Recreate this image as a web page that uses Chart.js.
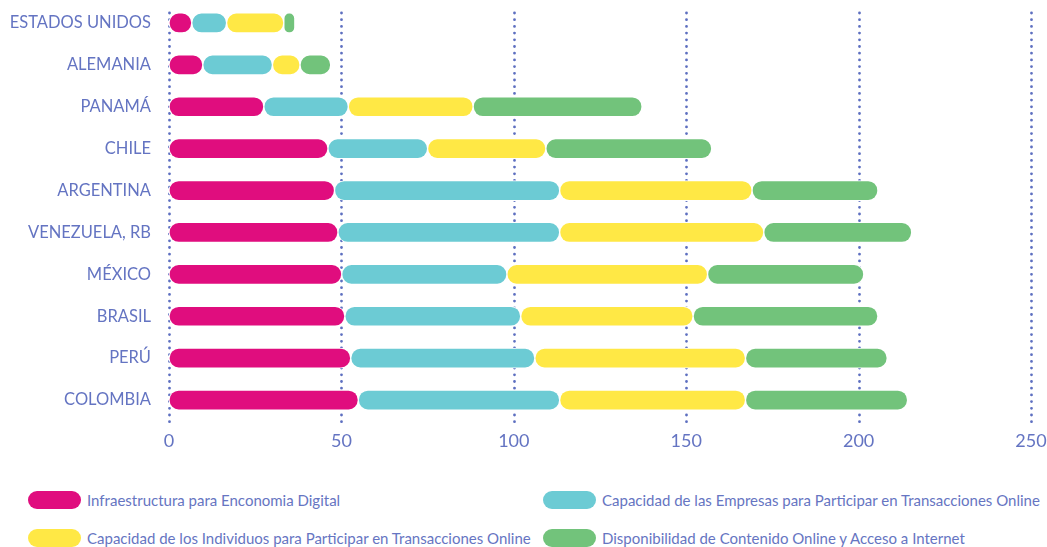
<!DOCTYPE html>
<html>
<head>
<meta charset="utf-8">
<script src="https://cdn.jsdelivr.net/npm/chart.js@4.4.0/dist/chart.umd.min.js"></script>
<style>
  html, body { margin: 0; padding: 0; background: #fff; }
  #wrap { position: relative; width: 1047px; height: 547px; overflow: hidden; }
  #chart { position: absolute; left: 0; top: 0; }
  #legend {
    position: absolute; left: 28px; top: 490px;
    display: grid; grid-template-columns: 515px auto; row-gap: 18px;
    font-family: Lato, sans-serif; font-size: 15px; color: #6675c2;
  }
  .item { display: flex; align-items: center; white-space: nowrap; height: 20px; }
  .swatch { width: 53px; height: 18px; border-radius: 9px; margin-right: 6px; }
</style>
</head>
<body>
<div id="wrap">
  <canvas id="chart" width="1047" height="470"></canvas>
  <div id="legend"></div>
</div>
<script>
// data
const categories = ['ESTADOS UNIDOS', 'ALEMANIA', 'PANAMÁ', 'CHILE', 'ARGENTINA',
    'VENEZUELA, RB', 'MÉXICO', 'BRASIL', 'PERÚ', 'COLOMBIA'];
const seriesNames = [
    'Infraestructura para Enconomia Digital',
    'Capacidad de las Empresas para Participar en Transacciones Online',
    'Capacidad de los Individuos para Participar en Transacciones Online',
    'Disponibilidad de Contenido Online y Acceso a Internet'
];
const infraestructura = [6.6, 9.8, 27.5, 46.1, 48.0, 49.0, 50.1, 51.0, 52.7, 54.9];
const empresas = [10.1, 20.2, 24.5, 28.9, 65.3, 64.3, 47.9, 51.0, 53.4, 58.4];
const individuos = [16.6, 8.0, 36.2, 34.3, 55.8, 59.2, 58.2, 50.0, 61.1, 53.9];
const contenido = [3.2, 8.9, 49.0, 48.1, 36.5, 42.9, 45.3, 53.6, 41.1, 47.0];
const xTicks = [0, 50, 100, 150, 200, 250];

const colors = ['#e00d7e', '#6ccbd4', '#ffe845', '#72c37b'];
const textColor = '#6474c2';

// floating bars so every segment gets its own rounded ends
const series = [infraestructura, empresas, individuos, contenido];
const running = categories.map(() => 0);
const datasets = series.map((vals, i) => {
    const data = vals.map((v, j) => {
        const s = running[j];
        running[j] += v;
        return [s, running[j]];
    });
    return {
        label: seriesNames[i],
        data: data,
        backgroundColor: colors[i],
        borderColor: '#ffffff',
        borderWidth: 1,
        borderRadius: 20,
        borderSkipped: false,
        grouped: false,
        barThickness: 20
    };
});

const dottedGrid = {
    id: 'dottedGrid',
    beforeDatasetsDraw(chart) {
        const {ctx, chartArea, scales} = chart;
        ctx.save();
        ctx.strokeStyle = '#5d6fc0';
        ctx.lineWidth = 2.8;
        ctx.lineCap = 'round';
        ctx.setLineDash([0, 6.7]);
        xTicks.forEach(v => {
            const px = Math.round(scales.x.getPixelForValue(v)) + 0.5;
            ctx.beginPath();
            ctx.moveTo(px, chartArea.top + 11);
            ctx.lineTo(px, chartArea.bottom + 5);
            ctx.stroke();
        });
        ctx.restore();
    }
};

const chart = new Chart(document.getElementById('chart'), {
    type: 'bar',
    data: { labels: categories, datasets: datasets },
    options: {
        indexAxis: 'y',
        responsive: false,
        animation: false,
        devicePixelRatio: 1,
        layout: { padding: { top: 2, right: 0, left: 0, bottom: 0 } },
        plugins: {
            legend: { display: false },
            tooltip: { enabled: false }
        },
        scales: {
            x: {
                min: 0,
                max: 250,
                grid: { display: false, drawTicks: false },
                border: { display: false },
                afterBuildTicks: scale => { scale.ticks = xTicks.map(v => ({ value: v })); },
                afterFit: scale => {
                    scale.height = 49;
                    scale.paddingLeft = 0;
                    scale.paddingRight = 16;
                },
                ticks: {
                    color: textColor,
                    padding: 9,
                    font: { family: 'Lato', size: 18 }
                }
            },
            y: {
                grid: { display: false, drawTicks: false },
                border: { display: false },
                afterFit: scale => {
                    scale.width = 169;
                    scale.paddingTop = 0;
                    scale.paddingBottom = 0;
                },
                ticks: {
                    color: textColor,
                    padding: 18,
                    font: { family: 'Lato', size: 16.5 }
                }
            }
        }
    },
    plugins: [dottedGrid]
});

// legend laid out in two columns like the original
const legend = document.getElementById('legend');
chart.data.datasets.forEach(ds => {
    const item = document.createElement('div');
    item.className = 'item';
    const sw = document.createElement('span');
    sw.className = 'swatch';
    sw.style.background = ds.backgroundColor;
    const txt = document.createElement('span');
    txt.textContent = ds.label;
    item.appendChild(sw);
    item.appendChild(txt);
    legend.appendChild(item);
});
</script>
</body>
</html>
